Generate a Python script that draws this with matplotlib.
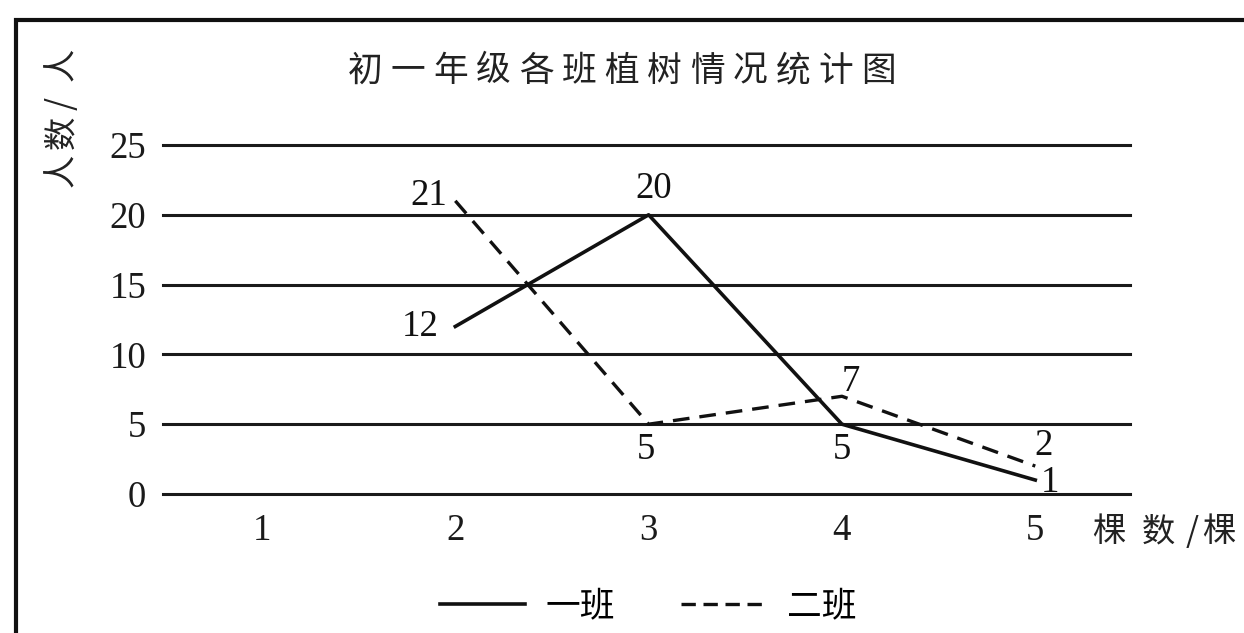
import matplotlib
matplotlib.use("Agg")
import matplotlib.pyplot as plt
from matplotlib.patches import Rectangle
from matplotlib.lines import Line2D

plt.rcParams['font.family'] = ['Liberation Serif', 'Noto Sans CJK SC', 'DejaVu Sans']

title = "初一年级各班植树情况统计图"
ylabel = "人数/人"
xlabel = "棵数/棵"
x_ticks = [1, 2, 3, 4, 5]
y_ticks = [0, 5, 10, 15, 20, 25]
trees = [2, 3, 4, 5]
class1 = [12, 20, 5, 1]
class2 = [21, 5, 7, 2]
series_names = ["一班", "二班"]

W, H = 1244, 633
fig = plt.figure(figsize=(W / 100, H / 100), dpi=100)
fig.patch.set_facecolor('white')

# outer frame
fig.patches.append(Rectangle((16 / W, -0.1), 1.2, 1 - 20 / H + 0.1,
                             transform=fig.transFigure, fill=False,
                             edgecolor='#111111', linewidth=3, zorder=0))

ax = fig.add_axes([163 / W, (H - 494) / H, (1130 - 163) / W, (494 - 145) / H])
ax.set_xlim(0.488, 5.49)
ax.set_ylim(0, 25)
for s in ax.spines.values():
    s.set_visible(False)
for y in y_ticks:
    ax.axhline(y, color='#1a1a1a', linewidth=2.2, zorder=1, clip_on=False)

ax.set_yticks(y_ticks)
ax.set_yticklabels([str(v) for v in y_ticks], fontsize=26.5, family='Liberation Serif')
ax.set_xticks(x_ticks)
ax.set_xticklabels([str(v) for v in x_ticks], fontsize=26.5, family='Liberation Serif')
ax.tick_params(axis='both', length=0, colors='#1a1a1a')
ax.tick_params(axis='y', pad=12)
ax.tick_params(axis='x', pad=14)

ax.plot(trees, class1, color='#111111', linewidth=2.6, linestyle='-', zorder=3, clip_on=False)
ax.plot(trees, class2, color='#111111', linewidth=2.4, linestyle=(0, (5, 3)), zorder=3, clip_on=False)

lab_kw = dict(fontsize=26.5, family='Liberation Serif', color='#111111', zorder=4)
# class 1 labels
ax.annotate(str(class1[0]), (trees[0], class1[0]), xytext=(-12, 0), textcoords='offset points', ha='right', va='center', **lab_kw)
ax.annotate(str(class1[1]), (trees[1], class1[1]), xytext=(4, 6), textcoords='offset points', ha='center', va='bottom', **lab_kw)
ax.annotate(str(class1[2]), (trees[2], class1[2]), xytext=(0, -6), textcoords='offset points', ha='center', va='top', **lab_kw)
ax.annotate(str(class1[3]), (trees[3], class1[3]), xytext=(4, -2), textcoords='offset points', ha='left', va='center', **lab_kw)
# class 2 labels
ax.annotate(str(class2[0]), (trees[0], class2[0]), xytext=(-6, 4), textcoords='offset points', ha='right', va='center', **lab_kw)
ax.annotate(str(class2[1]), (trees[1], class2[1]), xytext=(-2, -6), textcoords='offset points', ha='center', va='top', **lab_kw)
ax.annotate(str(class2[2]), (trees[2], class2[2]), xytext=(6, -2), textcoords='offset points', ha='center', va='bottom', **lab_kw)
ax.annotate(str(class2[3]), (trees[3], class2[3]), xytext=(6, 2), textcoords='offset points', ha='center', va='bottom', **lab_kw)

cjk = ['Noto Sans CJK SC', 'DejaVu Sans']
txt_kw = dict(family=cjk, color='#222222', fontweight='light', ha='center', va='center')

# title, letter-spaced
t_start, t_step = 365, 42.8
for i, ch in enumerate(title):
    fig.text((t_start + i * t_step) / W, 1 - 71 / H, ch, fontsize=25, **txt_kw)

# y label (vertical, reading bottom to top)
y_pos = [170, 132, 103, 64]
for ch, yp in zip(ylabel, y_pos):
    fig.text(62 / W, 1 - yp / H, ch, rotation=90, fontsize=24, **txt_kw)

# x label
x_pos = [1109, 1158, 1192, 1219]
for ch, xp in zip(xlabel, x_pos):
    fig.text(xp / W, 1 - 532 / H, ch, fontsize=24, **txt_kw)

handles = [Line2D([], [], color='#111111', linewidth=2.6, linestyle='-'),
           Line2D([], [], color='#111111', linewidth=2.4, linestyle=(0, (4.3, 2.3)))]
fig.legend(handles, series_names, loc='center', bbox_to_anchor=(648 / W, 1 - 607 / H),
           ncol=2, frameon=False, prop={'family': cjk, 'size': 25, 'weight': 'light'},
           handlelength=2.45, columnspacing=1.9, handletextpad=0.6)

fig.savefig('out.png', dpi=100, facecolor='white')
